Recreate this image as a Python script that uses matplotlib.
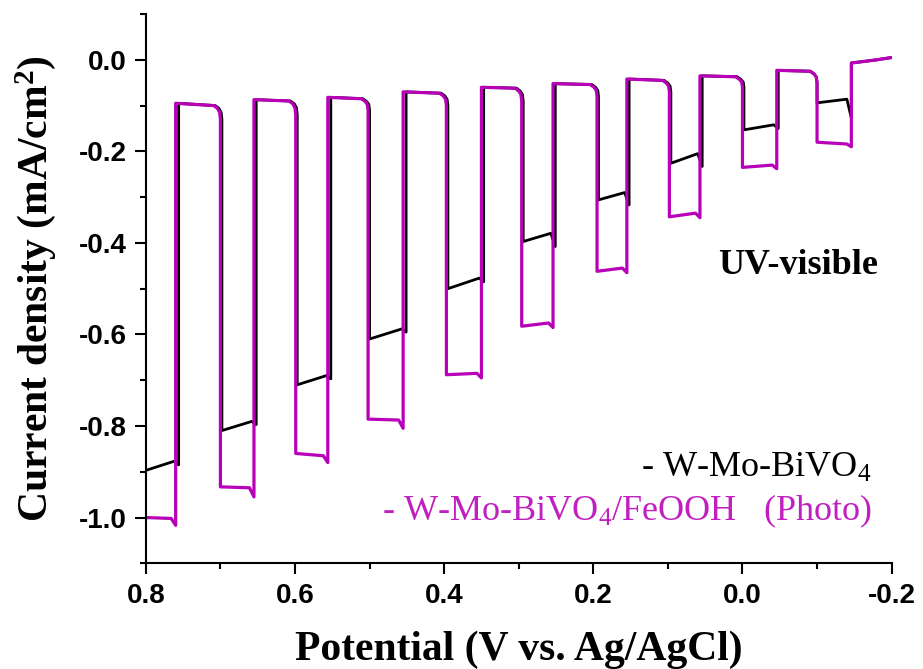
import matplotlib.pyplot as plt

plt.rcParams['mathtext.fontset'] = 'custom'
plt.rcParams['mathtext.rm'] = 'Liberation Serif'
plt.rcParams['mathtext.it'] = 'Liberation Serif:italic'
plt.rcParams['mathtext.bf'] = 'Liberation Serif:bold'

# potentials (V vs. Ag/AgCl) where the light was switched
light_off = [0.760, 0.655, 0.556, 0.455, 0.350, 0.254, 0.155, 0.057, -0.046, -0.146]
light_on = [0.700, 0.599, 0.502, 0.397, 0.296, 0.195, 0.098, 0.000, -0.100]
light_off_bk = [0.756, 0.652, 0.552, 0.451, 0.347, 0.251, 0.152, 0.054, -0.048, -0.146]
light_on_bk = [0.698, 0.597, 0.500, 0.395, 0.294, 0.193, 0.096, -0.002, -0.100]

# W-Mo-BiVO4 : (start, end, dip) under light and (start, end, corner) in dark
bivo4_light = [(-0.897, -0.877, -0.885), (-0.810, -0.790, -0.797), (-0.710, -0.690, -0.697),
               (-0.610, -0.588, -0.595), (-0.500, -0.477, -0.485), (-0.397, -0.379, -0.408),
               (-0.306, -0.290, -0.317), (-0.226, -0.205, -0.233), (-0.153, -0.142, -0.150),
               (-0.094, -0.086, -0.127)]
bivo4_dark = [(-0.095, -0.100, -0.130), (-0.087, -0.090, -0.120), (-0.082, -0.085, -0.110),
              (-0.070, -0.073, -0.100), (-0.060, -0.062, -0.090), (-0.052, -0.054, -0.080),
              (-0.042, -0.045, -0.070), (-0.035, -0.037, -0.060), (-0.023, -0.025, -0.050),
              (-0.007, 0.000, 0.005)]

# W-Mo-BiVO4/FeOOH
feooh_light = [(-1.000, -1.002, -1.017), (-0.933, -0.935, -0.955), (-0.860, -0.865, -0.880),
               (-0.785, -0.787, -0.805), (-0.688, -0.685, -0.695), (-0.582, -0.575, -0.585),
               (-0.462, -0.455, -0.465), (-0.343, -0.335, -0.345), (-0.235, -0.230, -0.238),
               (-0.180, -0.184, -0.190)]
feooh_dark = [(-0.095, -0.100, -0.130), (-0.087, -0.090, -0.120), (-0.082, -0.085, -0.110),
              (-0.070, -0.073, -0.100), (-0.060, -0.062, -0.090), (-0.052, -0.054, -0.080),
              (-0.042, -0.045, -0.070), (-0.035, -0.037, -0.060), (-0.023, -0.025, -0.050),
              (-0.007, 0.000, 0.005)]

x_start, x_end = 0.8, -0.2
MAGENTA = '#B800B8'


def chopped(off, on, light, dark):
    # step trace: light segment, jump up, dark segment with rounded end, jump down ...
    xs, ys = [], []
    starts = [x_start] + on
    for i in range(len(light)):
        a, b, c = light[i]
        x0, x1 = starts[i], off[i]
        xs += [x0, x1 + 0.006, x1]
        ys += [a, b, c]
        d0, d1, d2 = dark[i]
        if i < len(on):
            x2 = on[i]
            xs += [x1, x2 + 0.009, x2 + 0.004, x2 + 0.001, x2]
            ys += [d0, d1, d1 - 0.006, (d1 + d2) / 2, d2]
        else:
            xs += [x1, x_end + 0.02, x_end]
            ys += [d0, d1, d2]
    return xs, ys


fig = plt.figure(figsize=(9.23, 6.69), dpi=100)
ax = fig.add_axes([0.158, 0.158, 0.808, 0.821])

x, y = chopped(light_off_bk, light_on_bk, bivo4_light, bivo4_dark)
ax.plot(x, y, color='black', lw=2.0)
x, y = chopped(light_off, light_on, feooh_light, feooh_dark)
ax.plot(x, y, color=MAGENTA, lw=2.3)

ax.set_xlim(0.8, -0.2)
ax.set_ylim(-1.1, 0.1)
ax.set_xticks([0.8, 0.6, 0.4, 0.2, 0.0, -0.2])
ax.set_xticks([0.7, 0.5, 0.3, 0.1, -0.1], minor=True)
ax.set_yticks([0.0, -0.2, -0.4, -0.6, -0.8, -1.0])
ax.set_yticks([0.1, -0.1, -0.3, -0.5, -0.7, -0.9, -1.1], minor=True)
ax.set_xticklabels(['0.8', '0.6', '0.4', '0.2', '0.0', '-0.2'])
ax.set_yticklabels(['0.0', '-0.2', '-0.4', '-0.6', '-0.8', '-1.0'])

ax.spines['top'].set_visible(False)
ax.spines['right'].set_visible(False)
ax.spines['left'].set_linewidth(1.5)
ax.spines['bottom'].set_linewidth(1.5)
ax.tick_params(which='major', direction='out', length=8, width=1.5, pad=6)
ax.tick_params(which='minor', direction='out', length=4, width=1.5)
for lab in ax.get_xticklabels() + ax.get_yticklabels():
    lab.set_fontfamily('Liberation Sans')
    lab.set_fontweight('bold')
    lab.set_fontsize(20)

ax.set_xlabel('Potential (V vs. Ag/AgCl)', fontfamily='Liberation Serif',
              fontweight='bold', fontsize=30, labelpad=16)
ax.set_ylabel(r'Current density (mA/cm$^\mathbf{2}$)', fontfamily='Liberation Serif',
              fontweight='bold', fontsize=30, labelpad=15)

ax.text(0.874, 0.543, 'UV-visible', transform=ax.transAxes, ha='center', va='center',
        fontfamily='Liberation Serif', fontweight='bold', fontsize=26)
ax.text(0.973, 0.157, r'- W-Mo-BiVO$_4$', transform=ax.transAxes, ha='right',
        va='baseline', fontfamily='Liberation Serif', fontsize=26, color='black')
ax.text(0.973, 0.078, r'- W-Mo-BiVO$_4$/FeOOH   (Photo)', transform=ax.transAxes,
        ha='right', va='baseline', fontfamily='Liberation Serif', fontsize=26,
        color='#C020C0')

fig.savefig('out.png', dpi=100)
